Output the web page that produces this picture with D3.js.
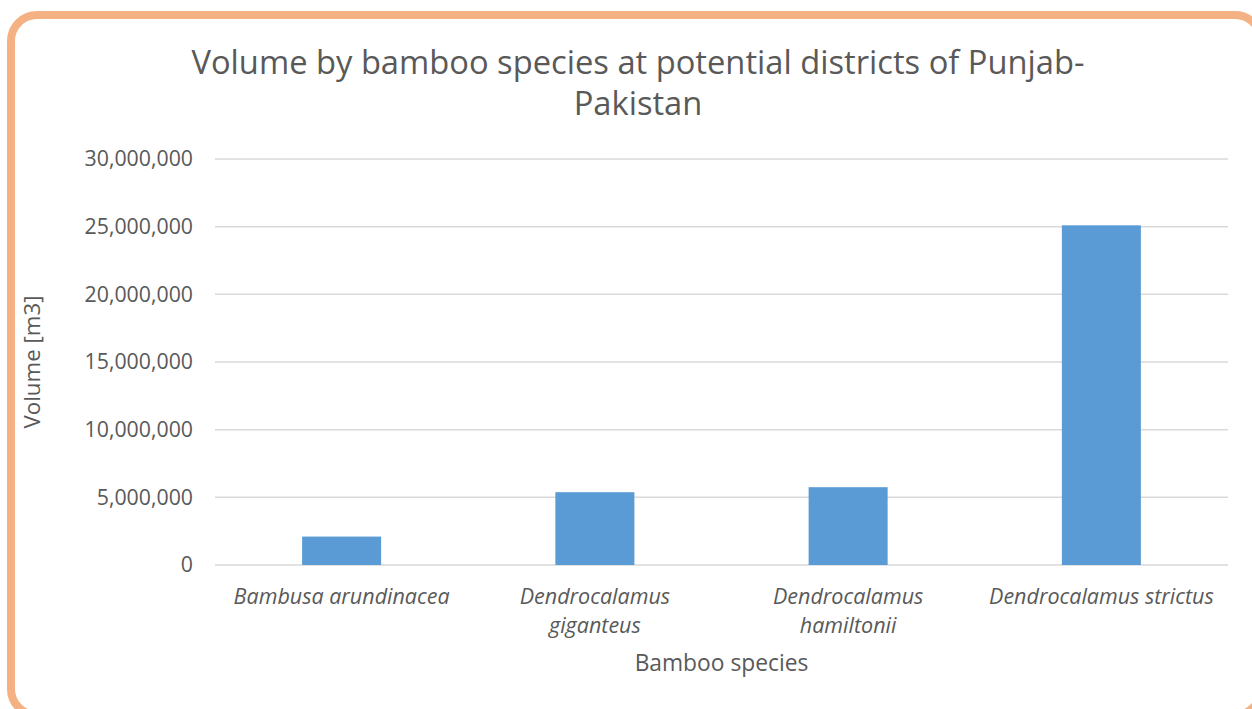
<!DOCTYPE html>
<html><head><meta charset="utf-8">
<script src="https://cdn.jsdelivr.net/npm/d3@7"></script>
<style>html,body{margin:0;padding:0;background:#fff;overflow:hidden}</style>
</head><body>
<svg id="c" width="1252" height="709"></svg>
<script>
const categories = [["Bambusa arundinacea"], ["Dendrocalamus", "giganteus"], ["Dendrocalamus", "hamiltonii"], ["Dendrocalamus strictus"]];
const volumes = [2100000, 5380000, 5750000, 25100000];
const yTicks = [0, 5000000, 10000000, 15000000, 20000000, 25000000, 30000000];
const titleLines = ["Volume by bamboo species at potential districts of Punjab-", "Pakistan"];
const xTitle = "Bamboo species";
const yTitle = "Volume [m3]";

const svg = d3.select("#c");
const font = "'Open Sans', sans-serif";
const grey = "#595959";

svg.append("rect").attr("x", 11).attr("y", 15).attr("width", 1250).attr("height", 700)
  .attr("rx", 26).attr("ry", 26).attr("fill", "#fff").attr("stroke", "#F4B183").attr("stroke-width", 8);

const m = {l: 215, r: 1228, t: 159, b: 565};
const x = d3.scaleBand().domain(categories.map((d, i) => i)).range([m.l, m.r]).paddingInner(0.688).paddingOuter(0.344);
const y = d3.scaleLinear().domain([0, 30000000]).range([m.b, m.t]);

svg.append("g").selectAll("line").data(yTicks).join("line")
  .attr("x1", m.l).attr("x2", m.r).attr("y1", d => y(d)).attr("y2", d => y(d))
  .attr("stroke", "#D9D9D9").attr("stroke-width", 1.5);

svg.append("g").selectAll("rect").data(volumes).join("rect")
  .attr("x", (d, i) => x(i)).attr("width", x.bandwidth())
  .attr("y", d => y(d)).attr("height", d => y(0) - y(d)).attr("fill", "#5B9BD5");

const yAxis = d3.axisLeft(y).tickValues(yTicks).tickFormat(d3.format(",")).tickSize(0).tickPadding(22);
const ya = svg.append("g").attr("transform", `translate(${m.l},0)`).call(yAxis);
ya.select(".domain").remove();
ya.selectAll("text").attr("font-family", font).attr("font-size", 21.3).attr("fill", grey);

const xg = svg.append("g");
categories.forEach((lines, i) => {
  const t = xg.append("text").attr("x", x(i) + x.bandwidth() / 2).attr("y", 604)
    .attr("text-anchor", "middle").attr("font-family", font).attr("font-style", "italic")
    .attr("font-size", 21.5).attr("fill", grey);
  lines.forEach((l, j) => t.append("tspan").attr("x", x(i) + x.bandwidth() / 2).attr("dy", j ? 29 : 0).text(l));
});

svg.append("text").attr("x", (m.l + m.r) / 2).attr("y", 671).attr("text-anchor", "middle")
  .attr("font-family", font).attr("font-size", 22.8).attr("fill", grey).text(xTitle);

svg.append("text").attr("transform", `translate(40,${(m.t + m.b) / 2}) rotate(-90)`).attr("text-anchor", "middle")
  .attr("font-family", font).attr("font-size", 22.3).attr("fill", grey).text(yTitle);

const tt = svg.append("text").attr("text-anchor", "middle").attr("font-family", font)
  .attr("font-size", 32.7).attr("fill", grey);
titleLines.forEach((l, j) => tt.append("tspan").attr("x", 638).attr("y", 74 + j * 41).text(l));
</script>
</body></html>
